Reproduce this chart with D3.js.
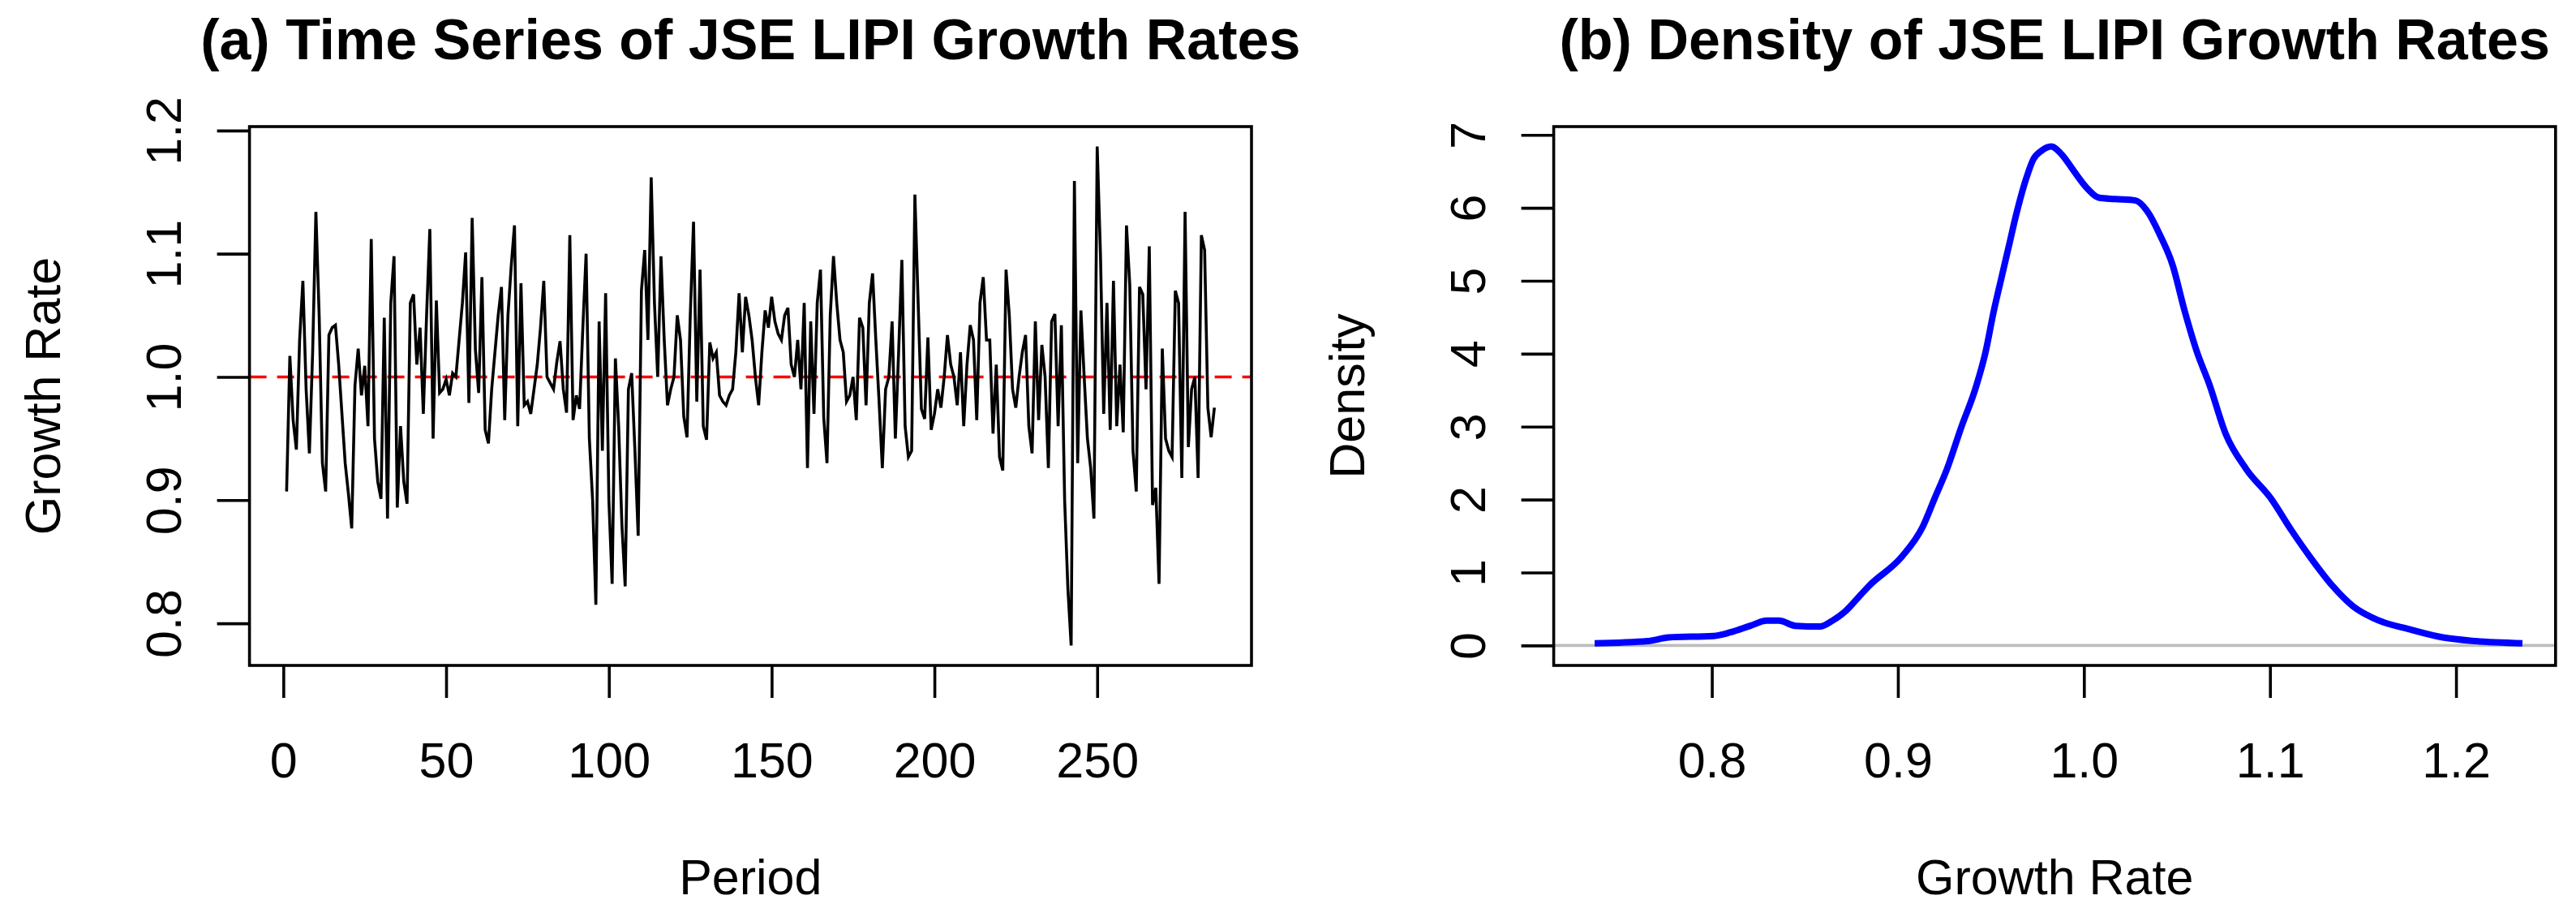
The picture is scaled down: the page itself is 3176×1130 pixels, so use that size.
<!DOCTYPE html>
<html><head><meta charset="utf-8">
<script src="https://cdn.jsdelivr.net/npm/d3@7"></script>
<style>
body{margin:0;background:#fff}
svg{display:block}
text{font-family:"Liberation Sans",Arial,Helvetica,sans-serif;fill:#000}
</style>
</head><body>
<svg id="chart" width="3176" height="1130"></svg>
<script>
// ---- data ----
const growthRate = [
0.907,1.017,0.965,0.941,1.03,1.078,0.99,0.938,1.02,1.134,
1.05,0.93,0.907,1.034,1.04,1.042,1.01,0.97,0.93,0.905,
0.877,0.993,1.023,0.985,1.009,0.96,1.112,0.95,0.915,0.901,
1.048,0.885,1.06,1.098,0.894,0.96,0.915,0.897,1.06,1.067,
1.01,1.04,0.97,1.05,1.12,0.95,1.062,0.987,0.99,0.998,
0.985,1.003,1.0,1.03,
1.06,1.101,0.979,1.129,1.022,0.987,1.081,0.957,0.946,0.99,
1.02,1.05,1.073,0.965,1.05,1.09,1.123,0.96,1.076,0.977,
0.98,0.97,0.99,1.01,1.04,1.078,1.0,0.995,0.99,1.012,
1.029,0.99,0.971,1.115,0.965,0.985,0.974,1.04,1.1,0.95,
0.9,0.815,1.045,0.94,1.068,0.9,0.832,1.015,0.96,0.88,
0.83,0.99,1.003,0.94,0.871,1.07,1.103,1.03,1.162,
1.06,1.0,
1.098,1.03,0.977,0.99,1.0,1.05,1.03,0.968,0.951,1.05,
1.126,0.98,1.087,0.96,0.949,1.028,1.015,1.02,0.985,0.98,
0.977,0.985,0.99,1.02,1.068,1.02,1.065,1.05,1.03,1.0,
0.977,1.02,1.054,1.04,1.065,1.045,1.035,1.03,1.05,1.056,
1.01,1.0,1.03,0.99,1.06,0.926,1.045,0.97,1.06,1.087,
0.967,0.93,1.05,1.098,1.06,1.03,1.02,0.98,
0.985,1.0,0.965,1.048,1.04,0.977,1.06,1.084,1.03,0.98,
0.926,0.99,1.0,1.045,0.95,1.02,1.095,0.96,0.935,0.94,
1.148,1.06,0.974,0.966,1.032,0.957,0.97,0.99,0.975,1.0,
1.034,1.01,1.0,0.977,1.02,0.96,1.01,1.042,1.03,0.965,
1.06,1.081,1.03,1.03,0.954,1.01,0.935,0.924,1.087,1.05,
0.99,0.975,1.0,1.02,1.034,0.96,0.938,1.045,0.965,1.026,
1.0,0.926,1.045,1.051,0.96,1.042,0.9,0.828,0.782,1.159,
0.93,1.054,1.0,0.95,0.926,0.885,1.187,1.1,0.97,1.06,
0.957,1.078,0.96,1.01,0.955,1.123,1.075,0.94,0.907,1.073,
1.067,0.99,1.106,0.896,0.91,0.832,1.023,0.95,0.94,0.935,
1.07,1.06,0.918,1.134,0.943,0.99,1.0,0.918,1.115,1.103,
0.975,0.951,0.975
];
const densityX = [0.737,0.7656,0.7767,0.8009,0.81,0.8207,0.8295,0.8361,0.8449,0.8581,0.8648,0.8714,0.8802,
0.8846,0.9022,0.9132,0.9198,0.9264,0.9339,0.9419,0.9471,0.9515,0.9551,0.9595,0.9639,0.9692,0.9727,0.9771,0.9824,
0.9881,0.9947,1.0013,1.0079,1.0167,1.0278,1.0344,1.041,1.0476,1.0542,1.0608,1.0674,1.0762,1.0872,1.1004,1.1115,
1.1225,1.1335,1.1445,1.1577,1.1753,1.193,1.2106,1.2357];
const densityY = [0.03,0.06,0.11,0.13,0.18,0.27,0.34,0.34,0.27,0.26,0.34,0.46,0.70,
0.82,1.22,1.62,2.02,2.42,2.98,3.54,4.02,4.58,4.98,5.46,5.94,6.42,6.66,6.78,6.84,
6.73,6.50,6.28,6.14,6.12,6.10,5.94,5.62,5.22,4.58,4.02,3.58,2.90,2.42,2.02,1.58,
1.18,0.82,0.54,0.35,0.22,0.11,0.06,0.03];
const periodTicks = [0,50,100,150,200,250];
const rateTicks = [0.8,0.9,1.0,1.1,1.2];
const rateTickLabels = ["0.8","0.9","1.0","1.1","1.2"];
const densityTicks = [0,1,2,3,4,5,6,7];
const referenceRate = 1.0;
const titles = ["(a) Time Series of JSE LIPI Growth Rates","(b) Density of JSE LIPI Growth Rates"];
const xLabels = ["Period","Growth Rate"];
const yLabels = ["Growth Rate","Density"];

// ---- layout ----
const svg = d3.select("#chart");
const plotTop = 156, plotBottom = 820;
const panels = [{l:307.6, r:1543}, {l:1915.6, r:3150.8}];
const FS = 61, TFS = 70, LW = 3.6, TICK = 40;

// scales
const n = growthRate.length;
const xT = d3.scaleLinear().domain([1 - 0.04*(n-1), n + 0.04*(n-1)]).range([panels[0].l, panels[0].r]);
const gMin = d3.min(growthRate), gMax = d3.max(growthRate), gR = gMax - gMin;
const yT = d3.scaleLinear().domain([gMin - 0.04*gR, gMax + 0.04*gR]).range([plotBottom, plotTop]);
const xD = d3.scaleLinear().domain([0.715, 1.2535]).range([panels[1].l, panels[1].r]);
const dMax = d3.max(densityY);
const yD = d3.scaleLinear().domain([-0.04*dMax, dMax*1.04]).range([plotBottom, plotTop]);

function styleAxis(g){
  g.select(".domain").remove();
  g.selectAll(".tick line").attr("stroke","#000").attr("stroke-width",LW);
  g.selectAll(".tick text").attr("font-size",FS).attr("font-family","Liberation Sans, Arial, sans-serif").attr("fill","#000");
}
function bottomAxis(scale, ticks, fmt){
  const g = svg.append("g").attr("transform",`translate(0,${plotBottom})`)
    .call(d3.axisBottom(scale).tickValues(ticks).tickSize(TICK).tickFormat(fmt));
  styleAxis(g);
  g.selectAll(".tick text").attr("y",138).attr("dy",0);
}
function leftAxis(scale, ticks, fmt, x0){
  const g = svg.append("g").attr("transform",`translate(${x0},0)`)
    .call(d3.axisLeft(scale).tickValues(ticks).tickSize(TICK).tickFormat(fmt));
  styleAxis(g);
  g.selectAll(".tick text").attr("x",0).attr("y",-84.6).attr("dy",0)
    .attr("text-anchor","middle").attr("transform","rotate(-90)");
}

// ---- panel (a) ----
bottomAxis(xT, periodTicks, d3.format("d"));
leftAxis(yT, rateTicks, (d,i)=>rateTickLabels[i], panels[0].l);

svg.append("line")
  .attr("x1",panels[0].l).attr("x2",panels[0].r)
  .attr("y1",yT(referenceRate)).attr("y2",yT(referenceRate))
  .attr("stroke","#ff0000").attr("stroke-width",3.6).attr("stroke-dasharray","21,13");

svg.append("path").datum(growthRate)
  .attr("fill","none").attr("stroke","#000").attr("stroke-width",3.6)
  .attr("stroke-linejoin","miter")
  .attr("d", d3.line().x((d,i)=>xT(i+1)).y(d=>yT(d)));

// ---- panel (b) ----
bottomAxis(xD, rateTicks, (d,i)=>rateTickLabels[i]);
leftAxis(yD, densityTicks, d3.format("d"), panels[1].l);

svg.append("line")
  .attr("x1",panels[1].l).attr("x2",panels[1].r)
  .attr("y1",yD(0)).attr("y2",yD(0))
  .attr("stroke","#bebebe").attr("stroke-width",3.6);

svg.append("path").datum(densityX.map((x,i)=>[x,densityY[i]]))
  .attr("fill","none").attr("stroke","#0000ff").attr("stroke-width",8)
  .attr("stroke-linejoin","round")
  .attr("d", d3.line().x(d=>xD(d[0])).y(d=>yD(d[1])).curve(d3.curveMonotoneX));

// ---- boxes, titles, labels ----
panels.forEach((p,i)=>{
  svg.append("rect").attr("x",p.l).attr("y",plotTop).attr("width",p.r-p.l).attr("height",plotBottom-plotTop)
    .attr("fill","none").attr("stroke","#000").attr("stroke-width",LW);
  const cx = (p.l+p.r)/2;
  svg.append("text").attr("x",cx).attr("y",73).attr("text-anchor","middle")
    .attr("font-size",TFS).attr("font-weight","bold").text(titles[i]);
  svg.append("text").attr("x",cx).attr("y",1102).attr("text-anchor","middle")
    .attr("font-size",FS).text(xLabels[i]);
  svg.append("text").attr("transform",`translate(${p.l-233.6},${(plotTop+plotBottom)/2}) rotate(-90)`)
    .attr("text-anchor","middle").attr("font-size",FS).text(yLabels[i]);
});
</script>
</body></html>
